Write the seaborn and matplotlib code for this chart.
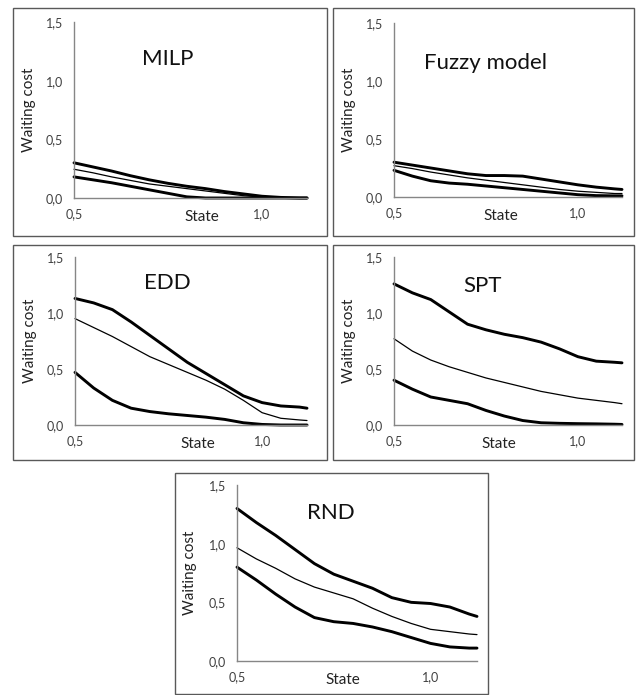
import matplotlib
matplotlib.use("Agg")
import matplotlib.pyplot as plt
from matplotlib.patches import Rectangle
import seaborn as sns

sns.set_style("white")
plt.rcParams['font.family'] = ['Lato', 'DejaVu Sans']

# x values (state) shared by all panels
state = [0.50, 0.55, 0.60, 0.65, 0.70, 0.75, 0.80, 0.85, 0.90, 0.95, 1.00, 1.05, 1.10, 1.12]

milp_upper = [0.30, 0.265, 0.23, 0.19, 0.155, 0.125, 0.10, 0.08, 0.055, 0.035, 0.015, 0.005, 0.0, 0.0]
milp_mean = [0.245, 0.215, 0.18, 0.15, 0.12, 0.10, 0.08, 0.06, 0.04, 0.02, 0.008, 0.002, 0.0, 0.0]
milp_lower = [0.18, 0.155, 0.13, 0.10, 0.07, 0.04, 0.01, 0.0, 0.0, 0.0, 0.0, 0.0, 0.0, 0.0]

fuzzy_upper = [0.30, 0.275, 0.25, 0.225, 0.20, 0.185, 0.185, 0.18, 0.155, 0.13, 0.105, 0.085, 0.07, 0.065]
fuzzy_mean = [0.27, 0.245, 0.215, 0.19, 0.165, 0.145, 0.125, 0.105, 0.085, 0.065, 0.05, 0.04, 0.03, 0.03]
fuzzy_lower = [0.23, 0.18, 0.14, 0.12, 0.11, 0.095, 0.08, 0.065, 0.05, 0.035, 0.02, 0.012, 0.01, 0.01]

edd_upper = [1.13, 1.09, 1.03, 0.92, 0.80, 0.68, 0.56, 0.46, 0.36, 0.26, 0.20, 0.17, 0.16, 0.15]
edd_mean = [0.95, 0.87, 0.79, 0.70, 0.61, 0.54, 0.47, 0.40, 0.32, 0.22, 0.11, 0.06, 0.045, 0.04]
edd_lower = [0.47, 0.33, 0.22, 0.15, 0.12, 0.10, 0.085, 0.07, 0.05, 0.02, 0.005, 0.0, 0.0, 0.0]

spt_upper = [1.26, 1.18, 1.12, 1.01, 0.90, 0.85, 0.81, 0.78, 0.74, 0.68, 0.61, 0.57, 0.56, 0.555]
spt_mean = [0.77, 0.66, 0.58, 0.52, 0.47, 0.42, 0.38, 0.34, 0.30, 0.27, 0.24, 0.22, 0.20, 0.19]
spt_lower = [0.40, 0.32, 0.25, 0.22, 0.19, 0.13, 0.08, 0.04, 0.02, 0.015, 0.012, 0.01, 0.007, 0.005]

rnd_upper = [1.30, 1.18, 1.07, 0.95, 0.83, 0.74, 0.68, 0.62, 0.54, 0.50, 0.49, 0.46, 0.40, 0.38]
rnd_mean = [0.965, 0.87, 0.79, 0.70, 0.63, 0.58, 0.53, 0.45, 0.38, 0.32, 0.27, 0.25, 0.23, 0.225]
rnd_lower = [0.80, 0.69, 0.57, 0.46, 0.37, 0.335, 0.32, 0.29, 0.25, 0.20, 0.15, 0.12, 0.11, 0.11]

titles = ["MILP", "Fuzzy model", "EDD", "SPT", "RND"]
y_ticks = [0.0, 0.5, 1.0, 1.5]
y_tick_labels = ["0,0", "0,5", "1,0", "1,5"]
x_ticks = [0.5, 1.0]
x_tick_labels = ["0,5", "1,0"]

series = [
    (milp_upper, milp_mean, milp_lower),
    (fuzzy_upper, fuzzy_mean, fuzzy_lower),
    (edd_upper, edd_mean, edd_lower),
    (spt_upper, spt_mean, spt_lower),
    (rnd_upper, rnd_mean, rnd_lower),
]

W, H = 642, 695
fig = plt.figure(figsize=(W / 100, H / 100), dpi=100)

# layout in pixels: frame box (x0, y0, x1, y1), axes (left, top, right, bottom),
# title position (axes fraction), xlabel x position (axes fraction)
layout = [
    ((13, 8, 327, 236), (74, 22, 307, 198), (0.40, 0.79), 0.55),
    ((333, 8, 634, 236), (394, 23, 622, 197), (0.40, 0.77), 0.47),
    ((13, 245, 327, 460), (75, 257, 307, 425), (0.40, 0.845), 0.53),
    ((333, 245, 634, 460), (394, 257, 622, 425), (0.39, 0.83), 0.46),
    ((175, 473, 488, 694), (237, 485, 477, 661), (0.39, 0.84), 0.44),
]

for (box, axp, tpos, xl), title, (up, mean, low) in zip(layout, titles, series):
    bx0, by0, bx1, by1 = box
    fig.add_artist(Rectangle((bx0 / W, 1 - by1 / H), (bx1 - bx0) / W, (by1 - by0) / H,
                             transform=fig.transFigure, fill=False,
                             edgecolor="#595959", linewidth=1.0))
    l, t, r, b = axp
    ax = fig.add_axes([l / W, 1 - b / H, (r - l) / W, (b - t) / H])
    ax.set_facecolor("none")

    sns.lineplot(x=state, y=up, ax=ax, color="black", linewidth=2.1, clip_on=False,
                 solid_joinstyle="round", solid_capstyle="round")
    sns.lineplot(x=state, y=mean, ax=ax, color="black", linewidth=0.9, clip_on=False,
                 solid_joinstyle="round")
    sns.lineplot(x=state, y=low, ax=ax, color="black", linewidth=2.1, clip_on=False,
                 solid_joinstyle="round", solid_capstyle="round")

    ax.set_xlim(0.5, 1.12)
    ax.set_ylim(0, 1.5)
    ax.set_yticks(y_ticks)
    ax.set_yticklabels(y_tick_labels)
    ax.set_xticks(x_ticks)
    ax.set_xticklabels(x_tick_labels)
    ax.tick_params(length=0, labelsize=9, colors="#404040")
    ax.tick_params(axis="x", pad=7)
    ax.tick_params(axis="y", pad=8)

    for s in ["top", "right"]:
        ax.spines[s].set_visible(False)
    for s in ["left", "bottom"]:
        ax.spines[s].set_color("#868686")
        ax.spines[s].set_linewidth(1.0)

    ax.set_xlabel("State", fontsize=11, color="#222222")
    ax.xaxis.set_label_coords(xl, -0.07)
    ax.set_ylabel("Waiting cost", fontsize=11, color="#222222")
    ax.yaxis.set_label_coords(-0.165, 0.5)

    ax.text(tpos[0], tpos[1], title, transform=ax.transAxes, ha="center", va="center",
            fontsize=16, color="#111111")

fig.savefig("out.png", dpi=100)
